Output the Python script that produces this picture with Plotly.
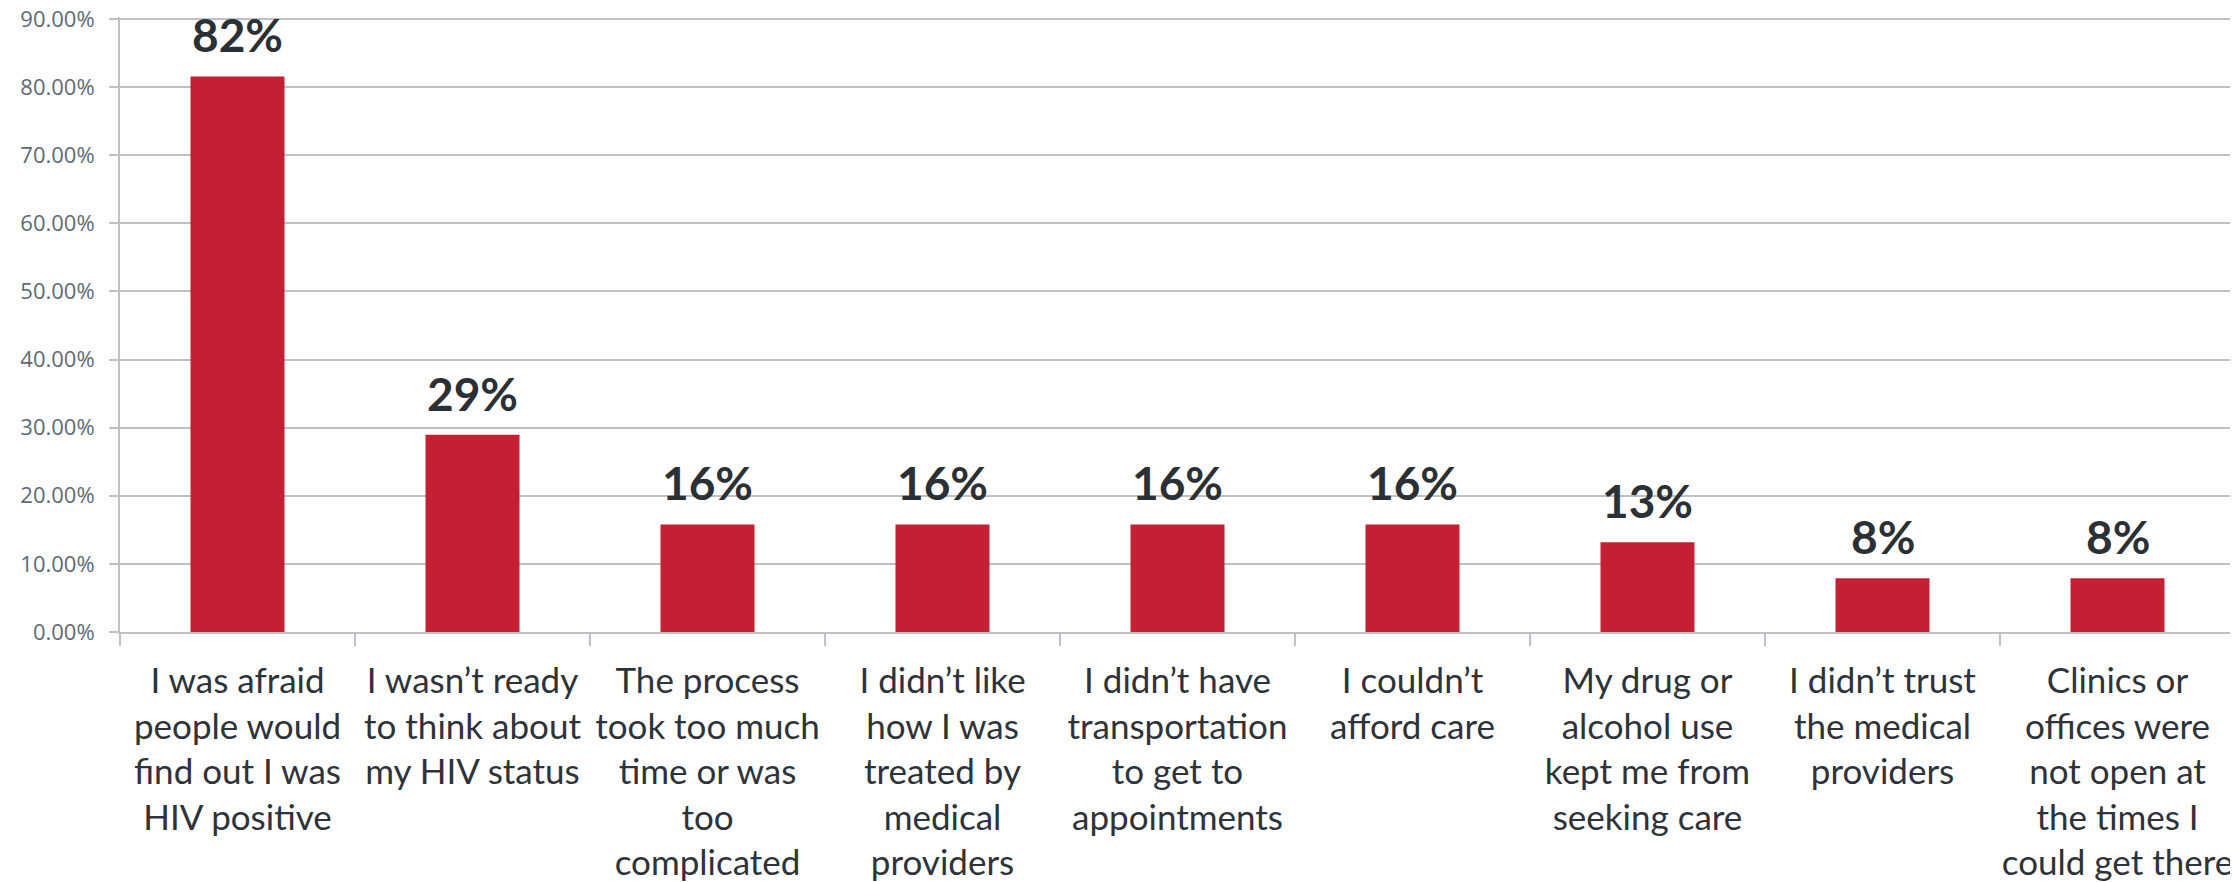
import plotly.graph_objects as go

categories = [
    "I was afraid<br>people would<br>find out I was<br>HIV positive",
    "I wasn’t ready<br>to think about<br>my HIV status",
    "The process<br>took too much<br>time or was<br>too<br>complicated",
    "I didn’t like<br>how I was<br>treated by<br>medical<br>providers",
    "I didn’t have<br>transportation<br>to get to<br>appointments",
    "I couldn’t<br>afford care",
    "My drug or<br>alcohol use<br>kept me from<br>seeking care",
    "I didn’t trust<br>the medical<br>providers",
    "Clinics or<br>offices were<br>not open at<br>the times I<br>could get there",
]
values = [0.8158, 0.2895, 0.1579, 0.1579, 0.1579, 0.1579, 0.1316, 0.0789, 0.0789]
y_ticks = [0, 0.1, 0.2, 0.3, 0.4, 0.5, 0.6, 0.7, 0.8, 0.9]

bar_color = "#C41F33"
grid_color = "#BDC1C5"

fig = go.Figure()
fig.add_trace(go.Bar(
    x=categories, y=values, marker=dict(color=bar_color, line=dict(width=0)),
    hoverinfo="skip",
))

for c, v in zip(categories, values):
    fig.add_annotation(
        x=c, y=v, text=f"{round(v*100)}%", showarrow=False,
        yanchor="bottom", yshift=12,
        font=dict(family="Lato", size=46, color="#2B3035", weight="bold"),
    )

fig.update_layout(
    width=2230, height=874,
    margin=dict(l=112, r=3, t=9, b=250),
    paper_bgcolor="white", plot_bgcolor="white",
    bargap=0.6, showlegend=False,
    xaxis=dict(
        type="category", showline=True, linecolor=grid_color, linewidth=2,
        ticks="outside", tickson="boundaries", ticklen=12, tickwidth=2, tickcolor=grid_color,
        tickfont=dict(family="Lato", size=35, color="#2D3339"), tickangle=0,
        showgrid=False, ticklabelstandoff=17, automargin=False,
    ),
    yaxis=dict(
        range=[0, 0.903], tickvals=y_ticks, tickformat=".2%",
        showline=True, linecolor=grid_color, linewidth=2,
        ticks="outside", ticklen=9, tickwidth=2, tickcolor=grid_color,
        showgrid=True, gridcolor=grid_color, gridwidth=2,
        tickfont=dict(family="Open Sans", size=22, color="#5E6A74"),
        ticklabelstandoff=10, ticklabeloverflow="allow",
        zeroline=False, automargin=False,
    ),
)

fig.write_html("out.html")
